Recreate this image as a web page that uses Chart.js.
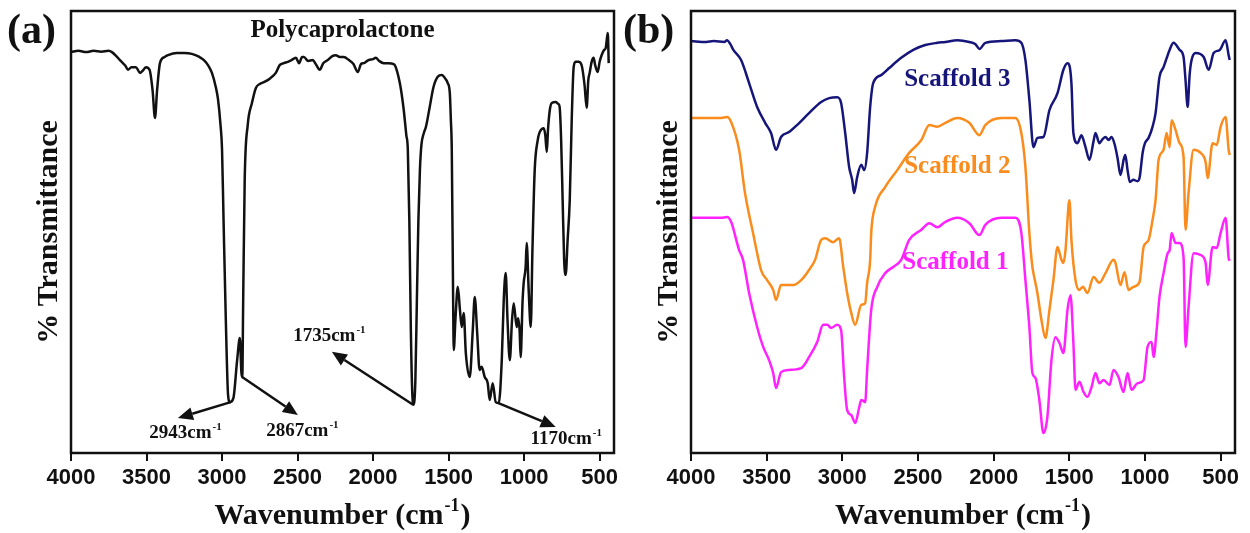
<!DOCTYPE html>
<html>
<head>
<meta charset="utf-8">
<script src="https://cdn.jsdelivr.net/npm/chart.js@4.4.1/dist/chart.umd.min.js"></script>
<style>
  body { margin: 0; background: #fff; }
  #wrap { position: relative; width: 1250px; height: 533px; }
  canvas { position: absolute; top: 0; }
  #panelA { left: 0; }
  #panelB { left: 620px; }
</style>
</head>
<body>
<div id="wrap">
  <canvas id="panelA" width="620" height="533"></canvas>
  <canvas id="panelB" width="630" height="533"></canvas>
</div>
<script>
// ── FTIR spectra (wavenumber in cm-1, transmittance in arbitrary %) ──

const xTicks = [500, 1000, 1500, 2000, 2500, 3000, 3500, 4000];
const X_MIN = 405, X_MAX = 4000;

// (a) polycaprolactone
const pclWavenumber = [4000,3950,3900,3850,3800,3750,3729,3700,3676,3640,3623,3600,3570,3543,3520,3504,3480,3460,3444,3430,
  3411,3380,3358,3300,3250,3200,3150,3120,3090,3067,3040,3027,3010,3000,2990,2975,2960,2948,2925,2900,
  2882,2872,2866,2860,2850,2830,2802,2776,2750,2723,2680,2644,2617,2590,2564,2540,2511,2490,2470,2458,
  2430,2400,2380,2353,2330,2300,2270,2247,2220,2194,2160,2130,2101,2080,2061,2030,2000,1982,1960,1930,
  1900,1863,1850,1823,1810,1797,1780,1770,1760,1750,1740,1731,1720,1710,1700,1690,1680,1664,1650,1625,
  1600,1572,1545,1520,1506,1492,1485,1479,1470,1466,1455,1439,1425,1413,1400,1386,1360,1340,1327,1310,
  1295,1281,1261,1241,1228,1208,1188,1168,1148,1135,1122,1110,1095,1080,1069,1049,1040,1030,1023,1010,
  1003,990,983,970,956,945,930,910,897,870,860,850,842,830,817,791,775,765,755,745,
  735,725,712,698,685,672,659,640,620,600,586,575,566,553,540,530,513,500,487,470,
  460,450,446,440];
const pclTransmittance = [90.7,91.0,90.7,91.0,90.8,91.0,90.7,89.8,88.9,87.6,86.7,87.3,87.3,86.0,86.7,87.3,86.7,82.1,75.8,82.1,
  88.2,89.6,90.0,90.5,90.5,90.3,89.6,88.9,87.6,86.0,82.6,80.1,74.2,68.6,52.7,30.1,13.1,11.5,12.4,21.0,
  26.0,18.3,17.2,34.6,61.8,74.2,79.2,82.6,83.5,83.9,84.8,86.0,87.8,88.2,88.5,88.9,89.4,88.2,89.6,89.6,
  88.7,88.9,88.0,86.7,88.2,88.9,89.8,90.0,89.6,89.6,88.9,88.0,86.2,88.0,88.2,88.9,89.1,89.4,88.7,88.2,
  88.2,88.0,87.3,83.7,81.0,77.6,71.9,68.6,52.7,27.8,13.1,10.9,16.5,34.6,52.7,64.0,69.7,72.4,73.8,78.3,
  82.8,85.1,85.5,84.6,83.7,81.4,75.3,68.6,34.6,23.3,30.1,37.6,32.4,28.5,31.7,22.6,17.2,27.8,35.3,26.7,
  18.8,19.5,17.2,15.8,12.0,15.8,11.5,11.3,21.0,34.6,40.7,30.1,21.0,30.1,33.9,28.5,30.5,27.8,21.7,34.6,
  38.5,42.1,47.5,36.9,28.5,45.9,64.0,70.8,72.6,73.5,71.9,68.1,73.1,77.6,79.2,79.4,79.0,78.3,70.8,57.2,
  43.7,40.3,48.2,57.2,75.3,87.3,88.5,88.5,87.8,83.3,78.1,84.4,86.0,88.5,89.4,87.8,86.2,88.5,90.0,91.2,
  91.6,94.3,95.0,88.2];

// labelled PCL bands, arrow heads and label centres
const pclBands = [2943, 2867, 1735, 1170];
const bandArrowHead = [[3292, 7.9], [2498, 8.6], [2273, 22.9], [791, 5.9]];
const bandLabelAt = [[3239, 4.75], [2465, 5.2], [2286, 26.7], [718, 3.4]];

// (b) scaffolds
const s3Wavenumber = [4000,3900,3850,3780,3762,3740,3720,3669,3616,3563,3510,3471,3438,3405,3352,3299,3220,3140,3087,3034,
  3008,2981,2955,2935,2922,2902,2875,2855,2836,2816,2796,2743,2690,2611,2531,2452,2372,2319,2240,2161,
  2120,2094,2055,1949,1856,1817,1790,1764,1737,1711,1671,1631,1578,1539,1512,1486,1473,1446,1420,1393,
  1367,1340,1327,1301,1280,1261,1240,1221,1200,1181,1162,1140,1130,1115,1100,1076,1050,1036,1015,1000,
  976,950,930,904,877,837,811,771,745,732,718,705,692,665,612,579,546,506,467,447,440];
const s3Transmittance = [93.2,93.0,93.2,93.0,93.4,92.5,91.2,88.9,83.7,78.3,74.7,72.4,68.6,71.5,72.6,74.2,76.9,79.4,80.3,80.5,
  79.2,72.4,64.7,61.8,58.8,62.4,65.2,64.0,67.9,78.3,83.7,85.5,87.1,89.4,91.2,92.3,92.8,93.0,93.4,93.0,
  92.5,91.4,92.8,93.2,93.4,92.8,88.9,79.9,69.2,71.3,71.5,77.6,81.4,86.7,88.2,83.7,72.4,70.1,71.9,69.2,
  66.3,70.5,72.4,70.1,71.0,71.5,70.8,71.5,69.8,66.7,62.9,66.5,67.4,64.0,61.3,61.8,61.5,62.2,68.0,70.1,
  71.3,73.8,76.9,85.1,87.3,91.2,92.8,91.2,89.6,84.4,78.3,85.5,88.9,90.5,89.6,86.7,90.5,91.2,93.4,90.0,88.9];

const s2Wavenumber = [4000,3900,3800,3762,3735,3682,3643,3590,3537,3497,3457,3438,3405,3325,3272,3220,3180,3140,3113,3061,
  3021,2994,2968,2941,2915,2875,2849,2836,2816,2809,2783,2716,2637,2558,2478,2425,2372,2319,2240,2161,
  2094,2055,1949,1856,1817,1790,1764,1744,1737,1711,1684,1658,1631,1605,1578,1552,1539,1525,1505,1499,
  1486,1459,1433,1410,1380,1340,1301,1261,1208,1195,1162,1135,1109,1076,1036,1009,976,950,930,910,
  877,857,837,824,798,771,745,732,712,679,632,599,586,553,526,500,467,447,440];
const s2Transmittance = [75.8,75.8,75.8,76.0,74.9,68.6,58.8,49.8,41.4,39.1,36.9,34.6,38.0,38.0,39.1,41.4,43.7,48.2,48.6,47.7,
  48.6,42.1,36.2,31.7,29.0,33.5,33.9,38.5,43.7,49.8,55.7,60.2,64.0,67.9,70.8,74.2,73.8,74.7,75.8,74.7,
  71.9,74.2,75.8,75.8,72.4,64.7,49.8,42.1,40.7,36.2,30.1,26.0,32.4,39.1,46.6,43.7,43.0,45.9,56.1,57.2,
  48.2,39.1,36.9,37.6,36.2,39.8,38.5,40.7,43.7,43.0,38.0,40.9,36.9,37.6,38.7,46.6,48.2,52.7,57.2,66.3,
  68.6,72.4,69.2,75.3,73.1,70.1,67.0,50.5,58.8,68.6,67.9,65.8,62.2,70.1,69.7,73.8,76.0,68.6,67.4];

const s1Wavenumber = [4000,3900,3800,3762,3735,3682,3656,3616,3563,3523,3484,3457,3438,3405,3352,3272,3220,3166,3127,3100,
  3074,3034,3008,2988,2968,2941,2915,2888,2875,2849,2836,2809,2769,2716,2664,2611,2558,2478,2425,2372,
  2319,2240,2161,2094,2055,1949,1856,1817,1790,1764,1744,1724,1698,1671,1645,1618,1592,1565,1539,1512,
  1492,1473,1459,1433,1406,1380,1353,1327,1301,1274,1234,1208,1175,1142,1115,1089,1049,1009,983,956,
  943,923,904,877,850,837,824,798,771,745,732,712,679,632,599,586,553,526,500,467,447,440];
const s1Transmittance = [53.2,53.2,53.2,53.4,52.3,45.9,43.7,36.2,28.5,24.0,21.0,18.1,14.7,18.3,18.8,19.2,21.7,25.1,29.0,29.0,
  28.3,29.0,27.8,17.2,9.7,8.6,6.8,10.4,12.0,11.5,18.8,32.4,37.6,40.7,42.1,43.7,48.2,50.5,52.0,51.1,
  52.3,53.2,52.0,49.3,51.6,53.2,53.2,49.8,39.1,28.5,18.1,17.0,12.0,4.5,8.1,21.0,26.2,24.9,22.6,32.4,
  35.7,24.9,14.3,16.1,13.8,12.7,14.9,18.1,15.8,16.5,15.4,18.8,17.2,13.8,18.1,14.3,15.8,16.5,24.0,25.1,
  21.7,27.8,35.3,40.7,45.2,45.9,49.8,47.5,47.5,44.3,24.0,33.0,45.2,44.8,43.0,38.0,46.6,46.4,49.8,53.2,44.1,43.5];

const scaffoldNames = ['Scaffold 3', 'Scaffold 2', 'Scaffold 1'];
const scaffoldColors = ['#16167a', '#f98c1c', '#ff22ff'];
const scaffoldLabelAt = [[2240, 84.4], [2240, 64.7], [2253, 43.0]];

// ─────────────────────────────────────────────────────────────

const SERIF = "'Liberation Serif', 'Times New Roman', serif";
const SANS = "'Liberation Sans', Arial, sans-serif";
const INK = '#111';

function toPoints(xs, ys) {
  return xs.map((x, i) => ({ x: x, y: ys[i] }));
}

function valueAt(xs, ys, wn) {
  let best = 0;
  xs.forEach((x, i) => {
    if (Math.abs(x - wn) < Math.abs(xs[best] - wn)) best = i;
  });
  return ys[best];
}

// text with a small raised "-1" (and optional tail), centred on (cx, cy)
function drawSupText(ctx, base, sup, tail, cx, cy, size, color) {
  const supSize = Math.round(size * 0.6);
  const big = `bold ${size}px ${SERIF}`;
  const small = `bold ${supSize}px ${SERIF}`;
  ctx.font = big;
  const wBase = ctx.measureText(base).width;
  const wTail = tail ? ctx.measureText(tail).width : 0;
  ctx.font = small;
  const wSup = ctx.measureText(sup).width;
  const x0 = cx - (wBase + wSup + 2 + wTail) / 2;
  const baseY = cy + size * 0.33;
  ctx.fillStyle = color;
  ctx.textAlign = 'left';
  ctx.textBaseline = 'alphabetic';
  ctx.font = big;
  ctx.fillText(base, x0, baseY);
  if (tail) ctx.fillText(tail, x0 + wBase + wSup + 2, baseY);
  ctx.font = small;
  ctx.fillText(sup, x0 + wBase + 1, baseY - size * 0.42);
}

function drawArrow(ctx, x1, y1, x2, y2) {
  const ang = Math.atan2(y2 - y1, x2 - x1);
  const len = 15, half = 6.5;
  const bx = x2 - len * Math.cos(ang);
  const by = y2 - len * Math.sin(ang);
  ctx.beginPath();
  ctx.moveTo(x1, y1);
  ctx.lineTo(bx, by);
  ctx.stroke();
  ctx.beginPath();
  ctx.moveTo(x2, y2);
  ctx.lineTo(bx + half * Math.sin(ang), by - half * Math.cos(ang));
  ctx.lineTo(bx - half * Math.sin(ang), by + half * Math.cos(ang));
  ctx.closePath();
  ctx.fill();
}

// frame, panel letter, captions, x title and band arrows
const decorPlugin = {
  id: 'decor',
  afterDraw(chart, args, opts) {
    const { ctx, chartArea: a, scales: { x, y } } = chart;
    ctx.save();

    ctx.strokeStyle = INK;
    ctx.lineWidth = 2.5;
    ctx.strokeRect(a.left, a.top, a.right - a.left, a.bottom - a.top);

    ctx.fillStyle = INK;
    ctx.font = `bold 42px ${SERIF}`;
    ctx.textAlign = 'left';
    ctx.textBaseline = 'middle';
    ctx.fillText(opts.letter, opts.letterX, 32);

    if (opts.title) {
      ctx.font = `bold 25px ${SERIF}`;
      ctx.textAlign = 'center';
      ctx.fillText(opts.title, (a.left + a.right) / 2, 31);
    }

    // axis title with the superscript unit
    drawSupText(ctx, 'Wavenumber (cm', '-1', ')', (a.left + a.right) / 2, 514, 30, INK);

    (opts.labels || []).forEach(l => {
      ctx.fillStyle = l.color;
      ctx.font = `bold 25px ${SERIF}`;
      ctx.textAlign = 'center';
      ctx.textBaseline = 'middle';
      ctx.fillText(l.text, x.getPixelForValue(l.at[0]), y.getPixelForValue(l.at[1]));
    });

    (opts.arrows || []).forEach(ar => {
      ctx.strokeStyle = INK;
      ctx.fillStyle = INK;
      ctx.lineWidth = 2.5;
      drawArrow(ctx,
        x.getPixelForValue(ar.from[0]), y.getPixelForValue(ar.from[1]),
        x.getPixelForValue(ar.to[0]), y.getPixelForValue(ar.to[1]));
      drawSupText(ctx, ar.text, '-1', '',
        x.getPixelForValue(ar.labelAt[0]), y.getPixelForValue(ar.labelAt[1]), 19, INK);
    });

    ctx.restore();
  }
};

function spectrumChart(canvasId, datasets, decor, rightPad) {
  return new Chart(document.getElementById(canvasId), {
    type: 'line',
    data: { datasets: datasets },
    options: {
      responsive: false,
      animation: false,
      layout: { padding: { top: 11, right: rightPad, bottom: 0, left: 0 } },
      plugins: {
        legend: { display: false },
        tooltip: { enabled: false },
        decor: decor
      },
      elements: {
        point: { radius: 0 },
        line: { borderWidth: 2.5, cubicInterpolationMode: 'monotone' }
      },
      scales: {
        x: {
          type: 'linear',
          reverse: true,
          min: X_MIN,
          max: X_MAX,
          afterBuildTicks: s => { s.ticks = xTicks.map(v => ({ value: v })); },
          afterFit: s => { s.height = 80; s.paddingLeft = 0; s.paddingRight = 0; },
          ticks: {
            color: INK,
            padding: 4,
            font: { family: SANS, size: 22, weight: 'bold' },
            callback: v => String(v)
          },
          grid: { drawOnChartArea: false, drawTicks: true, tickLength: 8, color: INK, lineWidth: 2 },
          border: { display: false },
          title: { display: false }
        },
        y: {
          min: 0,
          max: 100,
          afterFit: s => { s.width = 71; },
          ticks: { display: false },
          grid: { display: false },
          border: { display: false },
          title: {
            display: true,
            text: '% Transmittance',
            color: INK,
            font: { family: SERIF, size: 30, weight: 'bold' },
            padding: { top: 31, bottom: 0 }
          }
        }
      }
    },
    plugins: [decorPlugin]
  });
}

// (a)
spectrumChart('panelA', [{
  data: toPoints(pclWavenumber, pclTransmittance),
  borderColor: INK
}], {
  letter: '(a)',
  letterX: 7,
  title: 'Polycaprolactone',
  arrows: pclBands.map((wn, i) => ({
    text: wn + 'cm',
    from: [wn, valueAt(pclWavenumber, pclTransmittance, wn)],
    to: bandArrowHead[i],
    labelAt: bandLabelAt[i]
  }))
}, 6);

// (b)
const scaffoldSeries = [
  toPoints(s3Wavenumber, s3Transmittance),
  toPoints(s2Wavenumber, s2Transmittance),
  toPoints(s1Wavenumber, s1Transmittance)
];
spectrumChart('panelB', scaffoldSeries.map((pts, i) => ({
  label: scaffoldNames[i],
  data: pts,
  borderColor: scaffoldColors[i]
})), {
  letter: '(b)',
  letterX: 3,
  labels: scaffoldNames.map((name, i) => ({ text: name, color: scaffoldColors[i], at: scaffoldLabelAt[i] }))
}, 15);
</script>
</body>
</html>
